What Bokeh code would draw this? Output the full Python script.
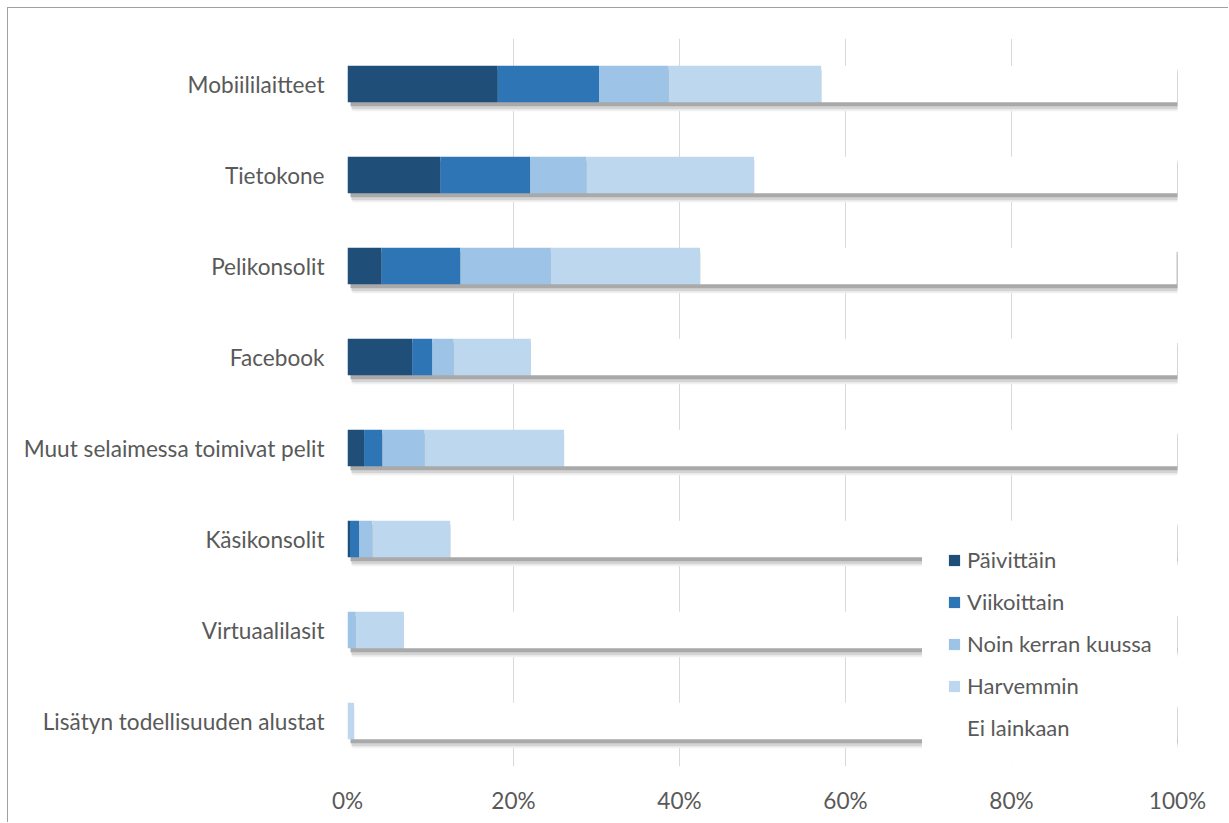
from bokeh.plotting import figure
from bokeh.models import FixedTicker, NumeralTickFormatter, ColumnDataSource, Legend
from bokeh.embed import file_html
from bokeh.resources import INLINE

categories = ["Mobiililaitteet", "Tietokone", "Pelikonsolit", "Facebook",
              "Muut selaimessa toimivat pelit", "Käsikonsolit", "Virtuaalilasit",
              "Lisätyn todellisuuden alustat"]
series_names = ["Päivittäin", "Viikoittain", "Noin kerran kuussa", "Harvemmin", "Ei lainkaan"]
paivittain = [18.1, 11.2, 4.1, 7.8, 2.0, 0.3, 0.0, 0.0]
viikoittain = [12.2, 10.8, 9.5, 2.4, 2.2, 1.1, 0.0, 0.0]
kerran_kuussa = [8.4, 6.8, 10.9, 2.6, 5.1, 1.6, 1.0, 0.0]
harvemmin = [18.4, 20.2, 18.0, 9.3, 16.8, 9.4, 5.8, 0.8]
ei_lainkaan = [42.9, 51.0, 57.4, 77.9, 73.9, 87.6, 93.2, 99.2]
x_ticks = [0, 0.2, 0.4, 0.6, 0.8, 1.0]

colors = ["#1F4E79", "#2E75B6", "#9DC3E6", "#BDD7EE", "#FFFFFF"]
FONT = "Lato"
TXT = "#595959"

n = len(categories)
ypos = [n - 1 - i for i in range(n)]
keys = ["s0", "s1", "s2", "s3", "s4"]
data = {"y": ypos}
for k, arr in zip(keys, [paivittain, viikoittain, kerran_kuussa, harvemmin, ei_lainkaan]):
    data[k] = [v / 100.0 for v in arr]
src = ColumnDataSource(data)

W, H = 1221, 815
p = figure(width=W, height=H, output_backend="svg", toolbar_location=None,
           x_range=(0, 1), y_range=(-0.5, n - 0.5),
           min_border_left=339, min_border_right=52, min_border_top=30, min_border_bottom=57)
p.styles = {"margin-left": "7px", "margin-top": "7px",
            "border-left": "1px solid #a0a0a0", "border-top": "1px solid #a0a0a0"}
p.outline_line_color = None
p.background_fill_color = "white"
p.border_fill_color = "white"

bh = 0.4
px = 1.0 / 91.0
pxx = 1.0 / 830.0
# shadows
p.quad(left=[5 * pxx] * n, right=[1 + 2 * pxx] * n,
       top=[y + bh / 2 - 9 * px for y in ypos], bottom=[y - bh / 2 - 9 * px for y in ypos],
       color="#f0f0f0", line_color=None)
p.quad(left=[4 * pxx] * n, right=[1 + 2 * pxx] * n,
       top=[y + bh / 2 - 7 * px for y in ypos], bottom=[y - bh / 2 - 7 * px for y in ypos],
       color="#d4d4d4", line_color=None)
p.quad(left=[3 * pxx] * n, right=[1 + 2 * pxx] * n,
       top=[y + bh / 2 - 4 * px for y in ypos], bottom=[y - bh / 2 - 4 * px for y in ypos],
       color="#a9a9a9", line_color=None)

renderers = p.hbar_stack(keys, y="y", height=bh, color=colors, source=src,
                         line_color=None)

legend = Legend(items=[(nm, [r]) for nm, r in zip(series_names, renderers)],
                location=(575, 0))
legend.padding = 24
legend.margin = 0
legend.spacing = 15
legend.label_height = 27
legend.glyph_height = 14
legend.glyph_width = 14
legend.label_standoff = 6
legend.border_line_color = "white"
legend.border_line_alpha = 1.0
legend.background_fill_color = "white"
legend.background_fill_alpha = 1.0
legend.label_text_font = FONT
legend.label_text_font_size = "22px"
legend.label_text_color = TXT
p.add_layout(legend, "center")

p.xaxis.ticker = FixedTicker(ticks=x_ticks)
p.xaxis.formatter = NumeralTickFormatter(format="0%")
p.yaxis.ticker = FixedTicker(ticks=ypos)
p.yaxis.major_label_overrides = {y: c for y, c in zip(ypos, categories)}
for ax in (p.xaxis, p.yaxis):
    ax.axis_line_color = None
    ax.major_tick_line_color = None
    ax.minor_tick_line_color = None
    ax.major_label_text_font = FONT
    ax.major_label_text_font_size = "22.6px"
    ax.major_label_text_color = TXT
p.xaxis.major_label_standoff = 14
p.yaxis.major_label_standoff = 17

p.xgrid.ticker = FixedTicker(ticks=x_ticks)
p.xgrid.grid_line_color = "#d9d9d9"
p.ygrid.grid_line_color = None

open("out.html", "w").write(file_html(p, INLINE))
